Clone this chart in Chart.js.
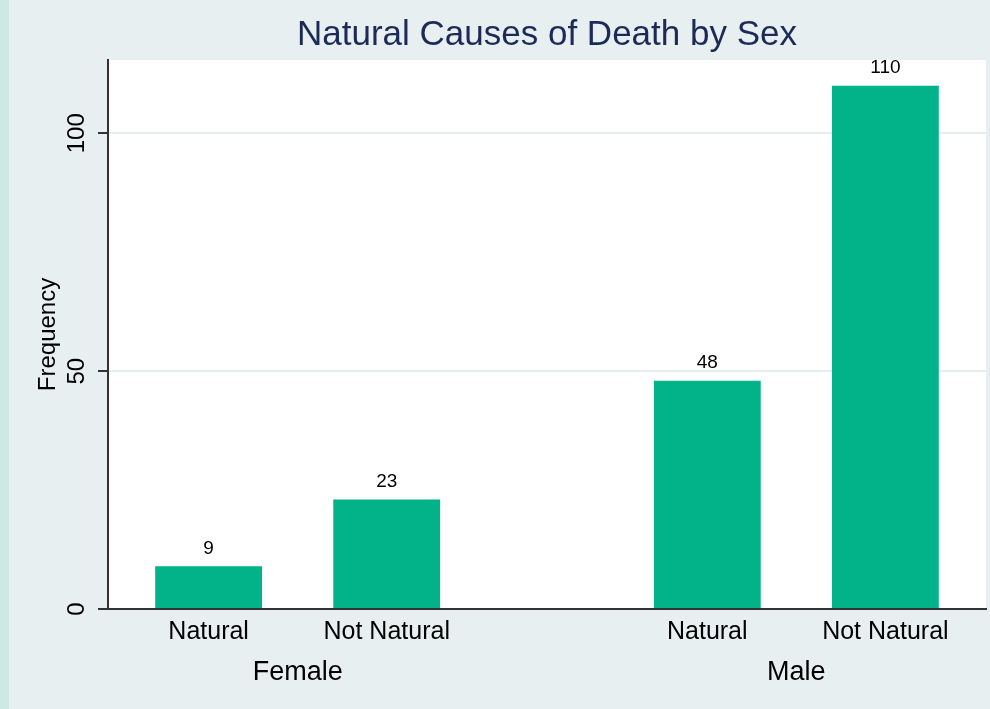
<!DOCTYPE html>
<html lang="en">
<head>
    <meta charset="UTF-8">
    <title>Natural Causes of Death by Sex</title>
    <script src="https://cdn.jsdelivr.net/npm/chart.js"></script>
</head>
<style>
    body {
    margin: 0;
    background-color: #e8eff1;
}

.container {
    width: 990px;
    height: 709px;
    position: relative;
}
</style>
<body>
    <div class="container">
        <canvas id="deathChart"></canvas>
    </div>
    <script>
    // chart data
    const groups = ['Female', 'Male'];
    const causes = ['Natural', 'Not Natural', 'Natural', 'Not Natural'];
    const counts = [9, 23, 48, 110];
    const yTicks = [0, 50, 100];

    // x slots for the bars (gap between the two sex groups)
    const slots = [1, 2, 3.8, 4.8];
    const groupSlots = [(slots[0] + slots[1]) / 2, (slots[2] + slots[3]) / 2];

    const fontFamily = '"Liberation Sans", Arial, sans-serif';
    const axisColor = '#333333';

    // background, side strip and white plot region
    const backdrop = {
        id: 'backdrop',
        beforeDraw(chart) {
            const ctx = chart.ctx;
            const a = chart.chartArea;
            ctx.save();
            ctx.fillStyle = '#e8eff1';
            ctx.fillRect(0, 0, chart.width, chart.height);
            ctx.fillStyle = '#cdeae2';
            ctx.fillRect(0, 0, 9, chart.height);
            ctx.fillStyle = '#ffffff';
            ctx.fillRect(a.left, a.top, a.right - a.left, a.bottom - a.top);
            ctx.restore();
        }
    };

    // rotated y tick labels and value labels above the bars
    const labels = {
        id: 'labels',
        afterDraw(chart) {
            const ctx = chart.ctx;
            const y = chart.scales.y;
            ctx.save();
            ctx.fillStyle = '#000000';
            ctx.font = '24px ' + fontFamily;
            ctx.textAlign = 'center';
            ctx.textBaseline = 'middle';
            yTicks.forEach(v => {
                ctx.save();
                ctx.translate(77, y.getPixelForValue(v));
                ctx.rotate(-Math.PI / 2);
                ctx.fillText(String(v), 0, 0);
                ctx.restore();
            });

            ctx.font = '19px ' + fontFamily;
            ctx.textBaseline = 'bottom';
            chart.getDatasetMeta(0).data.forEach((bar, i) => {
                ctx.fillText(String(counts[i]), bar.x, bar.y - 8);
            });
            ctx.restore();
        }
    };

    const xMin = slots[0] - 0.565;
    const xMax = slots[slots.length - 1] + 0.565;

    const ctx = document.getElementById('deathChart').getContext('2d');
    new Chart(ctx, {
        type: 'bar',
        data: {
            datasets: [{
                data: slots.map((s, i) => ({ x: s, y: counts[i] })),
                backgroundColor: '#02b38a',
                borderWidth: 0,
                categoryPercentage: 1,
                barPercentage: 0.6
            }]
        },
        options: {
            responsive: true,
            maintainAspectRatio: false,
            animation: false,
            layout: { padding: { left: 0, right: 4, top: 0, bottom: 0 } },
            plugins: {
                legend: { display: false },
                tooltip: { enabled: false },
                title: {
                    display: true,
                    fullSize: false,
                    text: 'Natural Causes of Death by Sex',
                    color: '#1c2a58',
                    font: { family: fontFamily, size: 35, weight: 'normal', lineHeight: 1.2 },
                    padding: { top: 14, bottom: 4 }
                }
            },
            scales: {
                x: {
                    type: 'linear',
                    position: 'bottom',
                    weight: 0,
                    min: xMin,
                    max: xMax,
                    offset: false,
                    afterBuildTicks: scale => { scale.ticks = slots.map(v => ({ value: v })); },
                    afterFit: scale => { scale.height = 40; },
                    grid: { display: false, drawTicks: false, offset: false },
                    border: { display: true, color: axisColor, width: 2 },
                    ticks: {
                        padding: 8,
                        color: '#000000',
                        maxRotation: 0,
                        autoSkip: false,
                        font: { family: fontFamily, size: 25 },
                        callback: (v, i) => causes[i]
                    }
                },
                x2: {
                    type: 'linear',
                    position: 'bottom',
                    weight: 1,
                    min: xMin,
                    max: xMax,
                    offset: false,
                    afterBuildTicks: scale => { scale.ticks = groupSlots.map(v => ({ value: v })); },
                    afterFit: scale => { scale.height = 60; },
                    grid: { display: false, drawTicks: false },
                    border: { display: false },
                    ticks: {
                        padding: 7,
                        color: '#000000',
                        maxRotation: 0,
                        autoSkip: false,
                        font: { family: fontFamily, size: 27 },
                        callback: (v, i) => groups[i]
                    }
                },
                y: {
                    min: 0,
                    max: 115.4,
                    afterBuildTicks: scale => { scale.ticks = yTicks.map(v => ({ value: v })); },
                    afterFit: scale => { scale.width = 108; },
                    grid: {
                        color: c => (c.tick && c.tick.value === 0) ? 'rgba(0,0,0,0)' : '#e6eef0',
                        lineWidth: 2,
                        drawTicks: true,
                        tickLength: 10,
                        tickColor: axisColor,
                        tickWidth: 2
                    },
                    border: { display: true, color: axisColor, width: 2 },
                    ticks: { display: false },
                    title: {
                        display: true,
                        text: 'Frequency',
                        color: '#000000',
                        font: { family: fontFamily, size: 24, lineHeight: 1.2 },
                        padding: { top: 34, bottom: 0 }
                    }
                }
            }
        },
        plugins: [backdrop, labels]
    });
    </script>
</body>
</html>
